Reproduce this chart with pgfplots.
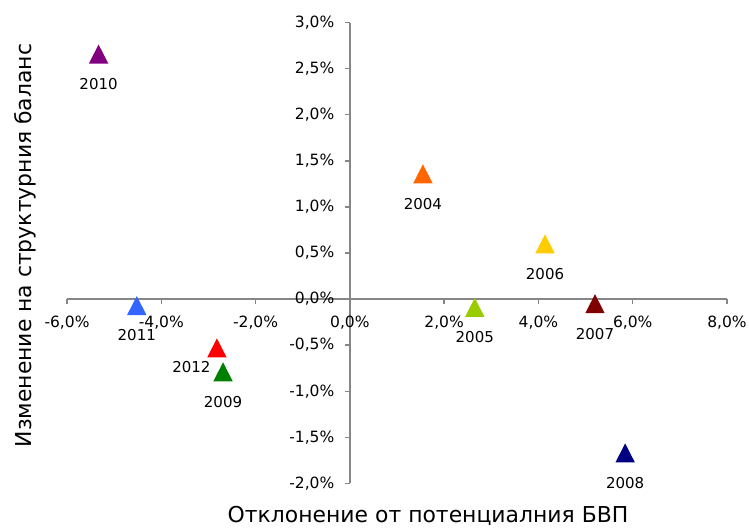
\documentclass[border=0pt]{standalone}
\usepackage{pgfplots}
\pgfplotsset{compat=1.18}
\usepackage{fontspec}
\setmainfont{DejaVu Sans}
\definecolor{axisgray}{HTML}{868686}
\definecolor{c2004}{HTML}{FF6600}
\definecolor{c2005}{HTML}{99CC00}
\definecolor{c2006}{HTML}{FFCC00}
\definecolor{c2007}{HTML}{800000}
\definecolor{c2008}{HTML}{000080}
\definecolor{c2009}{HTML}{008000}
\definecolor{c2010}{HTML}{800080}
\definecolor{c2011}{HTML}{3366FF}
\definecolor{c2012}{HTML}{FF0000}
\pgfdeclareplotmark{tri}{%
  \pgfpathmoveto{\pgfqpoint{0bp}{9.5bp}}%
  \pgfpathlineto{\pgfqpoint{-9.7bp}{-9.5bp}}%
  \pgfpathlineto{\pgfqpoint{9.7bp}{-9.5bp}}%
  \pgfpathclose\pgfusepathqfill}
\pgfplotsset{
  pt/.style={only marks, mark=tri, color=#1, draw=none, fill=#1,
    nodes near coords, point meta=explicit symbolic,
    every node near coord/.append style={anchor=center, yshift=-30bp, text=black,
      font=\fontsize{15bp}{18bp}\selectfont}},
}
\begin{document}
\begin{tikzpicture}
\useasboundingbox (-67bp,-44.7bp) rectangle (682bp,483.3bp);
\begin{axis}[at={(0,0)}, anchor=south west, scale only axis,
  width=660bp, height=460.6bp,
  xmin=-6, xmax=8, ymin=-2, ymax=3,
  axis lines=middle,
  axis line style={draw=axisgray, line width=1.3bp, -},
  tick style={draw=axisgray, line width=1.3bp},
  major tick length=5bp, tick align=outside,
  hide obscured x ticks=false, hide obscured y ticks=false,
  xtick={-6,-4,-2,0,2,4,6,8},
  xticklabels={{-6,0\%},{-4,0\%},{-2,0\%},{0,0\%},{2,0\%},{4,0\%},{6,0\%},{8,0\%}},
  ytick={-2,-1.5,-1,-0.5,0,0.5,1,1.5,2,2.5,3},
  yticklabels={{-2,0\%},{-1,5\%},{-1,0\%},{-0,5\%},{0,0\%},{0,5\%},{1,0\%},{1,5\%},{2,0\%},{2,5\%},{3,0\%}},
  ticklabel style={font=\fontsize{15.5bp}{18bp}\selectfont, text=black},
  xticklabel style={anchor=north, yshift=-8bp},
  yticklabel style={anchor=east, xshift=-7bp},
  xlabel={Отклонение от потенциалния БВП},
  ylabel={Изменение на структурния баланс},
  xlabel style={at={(axis description cs:0.547,0)}, anchor=base, yshift=-38.7bp,
    font=\fontsize{21.9bp}{24bp}\selectfont, text=black},
  ylabel style={at={(axis description cs:0,0.516)}, anchor=base, rotate=90, yshift=35bp,
    font=\fontsize{21.9bp}{24bp}\selectfont, text=black},
  clip=false,
]
\addplot[pt=c2004] coordinates {(1.55,1.36) [2004]};
\addplot[pt=c2005] coordinates {(2.65,-0.09) [2005]};
\addplot[pt=c2006] coordinates {(4.14,0.60) [2006]};
\addplot[pt=c2007] coordinates {(5.20,-0.05) [2007]};
\addplot[pt=c2008] coordinates {(5.84,-1.67) [2008]};
\addplot[pt=c2009] coordinates {(-2.69,-0.79) [2009]};
\addplot[pt=c2010] coordinates {(-5.33,2.66) [2010]};
\addplot[pt=c2011] coordinates {(-4.52,-0.07) [2011]};
\addplot[pt=c2012, every node near coord/.append style={xshift=-25.5bp, yshift=11bp}] coordinates {(-2.82,-0.53) [2012]};
\end{axis}
\end{tikzpicture}
\end{document}
